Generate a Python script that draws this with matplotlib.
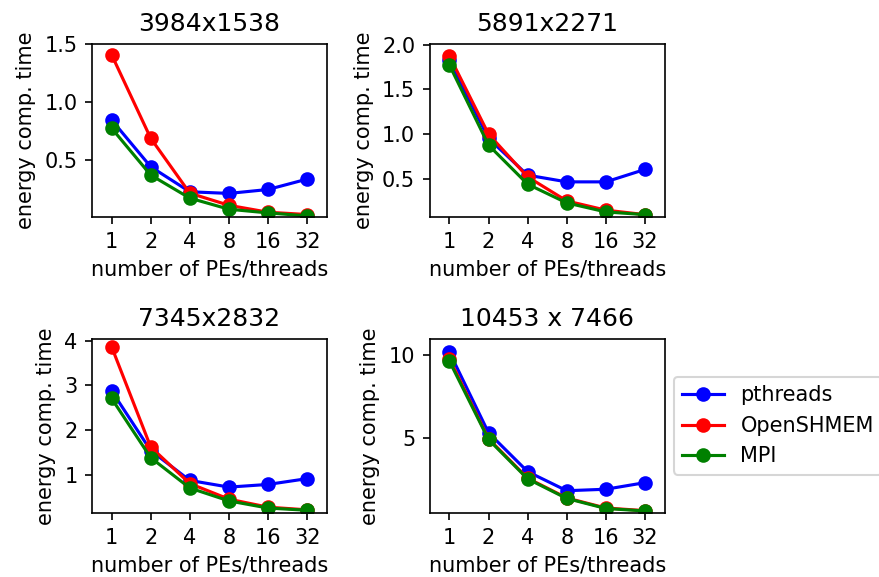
import matplotlib
matplotlib.use("Agg")
from matplotlib import pyplot as plt

# thread / PE counts on the x axis
threads = ["1", "2", "4", "8", "16", "32"]

titles = ["3984x1538", "5891x2271", "7345x2832", "10453 x 7466"]

# energy computation time per image size
pthreads = [
    [0.846, 0.44, 0.223, 0.209, 0.243, 0.333],
    [1.828, 0.952, 0.541, 0.466, 0.466, 0.605],
    [2.88, 1.54, 0.87, 0.72, 0.78, 0.91],
    [10.21, 5.31, 2.95, 1.79, 1.88, 2.28],
]
openshmem = [
    [1.411, 0.687, 0.211, 0.106, 0.046, 0.026],
    [1.873, 1.0, 0.522, 0.253, 0.15, 0.10],
    [3.87, 1.62, 0.80, 0.45, 0.27, 0.21],
    [9.8, 4.95, 2.55, 1.35, 0.74, 0.58],
]
mpi = [
    [0.774, 0.368, 0.168, 0.072, 0.04, 0.014],
    [1.772, 0.877, 0.44, 0.231, 0.13, 0.10],
    [2.71, 1.38, 0.70, 0.41, 0.25, 0.20],
    [9.66, 4.9, 2.51, 1.32, 0.71, 0.56],
]

ylims = [(0.005, 1.505), (0.074, 2.008), (0.14, 4.05), (0.44, 11.02)]
yticks = [[0.5, 1.0, 1.5], [0.5, 1.0, 1.5, 2.0], [1, 2, 3, 4], [5, 10]]

fig = plt.figure(figsize=(879 / 150, 577 / 150), dpi=150)

# axes boxes in figure fractions (left, bottom, width, height)
boxes = [
    (0.1047, 0.624, 0.267, 0.300),
    (0.489, 0.624, 0.267, 0.300),
    (0.1047, 0.111, 0.267, 0.302),
    (0.489, 0.111, 0.267, 0.302),
]

x = list(range(len(threads)))
for i in range(4):
    ax = fig.add_axes(boxes[i])
    ax.plot(x, pthreads[i], "o-", color="blue", label="pthreads")
    ax.plot(x, openshmem[i], "o-", color="red", label="OpenSHMEM")
    ax.plot(x, mpi[i], "o-", color="green", label="MPI")
    ax.set_xticks(x)
    ax.set_xticklabels(threads)
    ax.set_xlim(-0.5, 5.5)
    ax.set_ylim(*ylims[i])
    ax.set_yticks(yticks[i])
    ax.set_title(titles[i])
    ax.set_xlabel("number of PEs/threads")
    ax.set_ylabel("energy comp. time")
    if i == 3:
        ax.legend(loc="center left", bbox_to_anchor=(0.995, 0.5))

fig.savefig("out.png", dpi=150)
